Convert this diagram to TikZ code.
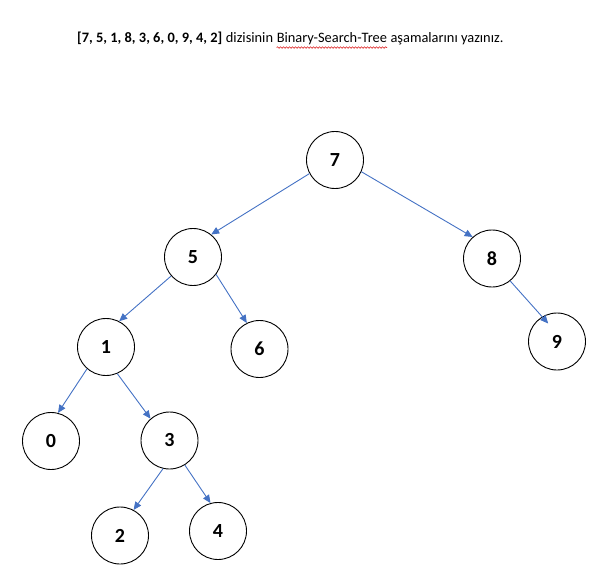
\documentclass[tikz,border=0pt]{standalone}
\usepackage{fontspec}
\setmainfont{Carlito}
\usetikzlibrary{arrows.meta,decorations.pathmorphing}
\definecolor{edgeblue}{RGB}{68,114,196}
\definecolor{spellred}{RGB}{220,30,30}
\begin{document}
\begin{tikzpicture}[x=1pt,y=-1pt,
  keynode/.style={circle,draw=black,line width=0.9pt,minimum size=57pt,inner sep=0pt,
    font=\fontsize{20}{24}\selectfont\bfseries},
  link/.style={draw=edgeblue,line width=0.9pt,-{Triangle[length=8pt,width=7pt]}},
  titletext/.style={anchor=base west,inner sep=0pt,font=\fontsize{14.4}{17}\selectfont}]
\useasboundingbox (0,0) rectangle (607,585);

% heading line
\node[titletext,font=\fontsize{14.4}{17}\selectfont\bfseries] (t1) at (77,43) {[7, 5, 1, 8, 3, 6, 0, 9, 4, 2]};
\node[titletext] (t2) at (t1.base east) {\ dizisinin\ \null};
\node[titletext] (t3) at (t2.base east) {Binary-Search-Tree};
\node[titletext] (t4) at (t3.base east) {\ aşamalarını yazınız.};
\draw[spellred,line width=0.6pt,decorate,decoration={snake,segment length=3pt,amplitude=0.8pt}]
  ([yshift=-2pt]t3.south west) -- ([yshift=-2pt]t3.south east);

% tree nodes
\node[keynode] (n7) at (335,160) {7};
\node[keynode] (n5) at (193,257) {5};
\node[keynode] (n8) at (492,258.5) {8};
\node[keynode] (n1) at (106,347) {1};
\node[keynode] (n6) at (259.5,349) {6};
\node[keynode] (n9) at (557,341.5) {9};
\node[keynode] (n0) at (51,441) {0};
\node[keynode] (n3) at (169.5,440.5) {3};
\node[keynode] (n2) at (120,535.5) {2};
\node[keynode] (n4) at (218,531) {4};

% edges
\draw[link] (n7.208) -- (n5.51);
\draw[link] (n7.336) -- (n8.132);
\draw[link] (n8.309) -- ([shift={(-116:20)}]n9.center);
\draw[link] (n5.221) -- (n1.63);
\draw[link] (n5.323) -- (n6.116);
\draw[link] (n1.229) -- (n0.76);
\draw[link] (n1.293) -- (n3.131);
\draw[link] (n3.257) -- (n2.62);
\draw[link] (n3.302) -- (n4.105);
\end{tikzpicture}
\end{document}
